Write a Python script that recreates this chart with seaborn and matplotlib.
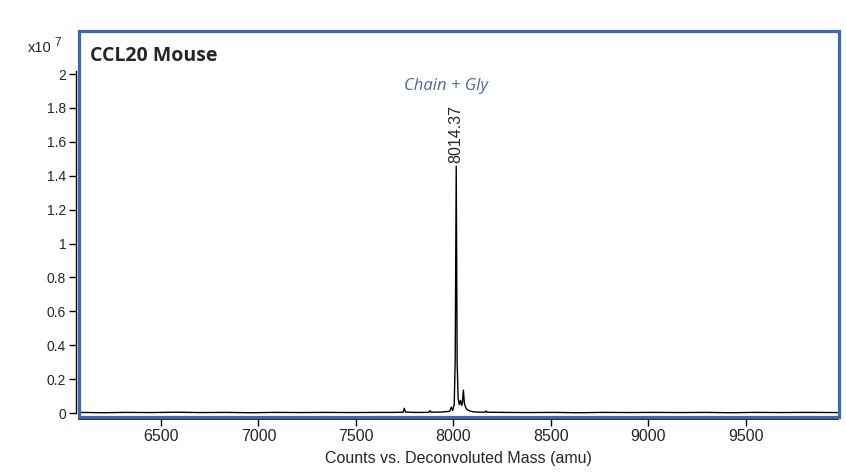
import numpy as np
import pandas as pd
import matplotlib
matplotlib.use("Agg")
import matplotlib.pyplot as plt
import seaborn as sns
from matplotlib.patches import Rectangle

# deconvoluted spectrum, intensity in units of 1e7 counts
MASS = [6080, 6200, 6320, 6450, 6580, 6700, 6830, 6960, 7090, 7220, 7350,
        7480, 7610, 7700, 7742, 7748, 7754, 7800, 7860, 7874, 7880, 7886,
        7940, 7980, 7990, 7996, 8004, 8009, 8014.37, 8019, 8024, 8030, 8036,
        8042, 8046, 8051, 8056, 8062, 8070, 8085, 8100, 8120, 8150, 8163,
        8168, 8174, 8250, 8380, 8510, 8640, 8770, 8900, 9030, 9160, 9290,
        9420, 9550, 9680, 9810, 9972]
INTENSITY = [0.004, 0.002, 0.004, 0.003, 0.005, 0.003, 0.004, 0.002, 0.004,
             0.003, 0.004, 0.003, 0.004, 0.004, 0.005, 0.028, 0.006, 0.004,
             0.004, 0.005, 0.014, 0.005, 0.006, 0.010, 0.035, 0.015, 0.050,
             0.30, 1.456, 0.30, 0.085, 0.050, 0.075, 0.045, 0.060, 0.135,
             0.060, 0.035, 0.020, 0.012, 0.008, 0.006, 0.005, 0.006, 0.012,
             0.005, 0.004, 0.003, 0.004, 0.002, 0.004, 0.003, 0.004, 0.003,
             0.004, 0.002, 0.004, 0.003, 0.004, 0.003]

PEAK_MASS = 8014.37
PEAK_HEIGHT = 1.456
X_TICKS = [6500, 7000, 7500, 8000, 8500, 9000, 9500]
Y_TICKS = [0, 0.2, 0.4, 0.6, 0.8, 1, 1.2, 1.4, 1.6, 1.8, 2]
Y_TICK_LABELS = ["0", "0.2", "0.4", "0.6", "0.8", "1", "1.2", "1.4", "1.6", "1.8", "2"]

FRAME_BLUE = "#3a68b5"
NOTE_BLUE = "#4a6a9c"

sns.set_style("white")
plt.rcParams["font.family"] = ["Liberation Sans", "DejaVu Sans"]

df = pd.DataFrame({"mass": MASS, "intensity": INTENSITY})

fig = plt.figure(figsize=(8.46, 4.73), dpi=100)
W, H = 846, 473
ax = fig.add_axes([79 / W, 1 - 419 / H, (838 - 79) / W, (419 - 32) / H])

sns.lineplot(data=df, x="mass", y="intensity", ax=ax, color="black",
             linewidth=1.0, estimator=None, sort=True)

ax.set_xlim(6080, 9972)
ax.set_ylim(-0.035, 2.248)

ax.set_xticks(X_TICKS)
ax.set_xticklabels([str(t) for t in X_TICKS], fontsize=11.5)
ax.set_yticks(Y_TICKS)
ax.set_yticklabels(Y_TICK_LABELS, fontsize=11.5)
ax.tick_params(axis="both", direction="out", length=5, width=1, color="black",
               left=True, bottom=True, pad=2)

for side in ["top", "right"]:
    ax.spines[side].set_visible(False)
ax.spines["left"].set_position(("outward", 2.2))
ax.spines["left"].set_bounds(0, 2.02)
ax.spines["left"].set_color("black")
ax.spines["bottom"].set_color("black")
ax.spines["left"].set_linewidth(1)
ax.spines["bottom"].set_linewidth(1.2)

ax.set_xlabel("Counts vs. Deconvoluted Mass (amu)", fontsize=11.5, labelpad=5)
ax.set_ylabel("")

# blue frame around the plot area
frame = Rectangle((78.5 / W, 1 - 417 / H), (838.5 - 78.5) / W, (417 - 31.5) / H,
                  transform=fig.transFigure, fill=False, edgecolor=FRAME_BLUE,
                  linewidth=2.3, zorder=10)
fig.patches.append(frame)

# scale factor label
fig.text(28 / W, 1 - 48 / H, "x10", fontsize=10.5, va="center", ha="left")
fig.text(54 / W, 1 - 43 / H, "7", fontsize=8.5, va="center", ha="left")

ax.text(0.015, 0.965, "CCL20 Mouse", transform=ax.transAxes, fontsize=14,
        fontweight="bold", family=["Open Sans", "DejaVu Sans"], va="top", ha="left")

ax.text(PEAK_MASS - 55, 1.93, "Chain + Gly", fontsize=12, style="italic",
        color=NOTE_BLUE, family=["Open Sans", "DejaVu Sans"], ha="center", va="center")
ax.text(PEAK_MASS, PEAK_HEIGHT + 0.02, f"{PEAK_MASS:.2f}", rotation=90,
        fontsize=11.5, ha="center", va="bottom")

fig.savefig("out.png", dpi=100)
